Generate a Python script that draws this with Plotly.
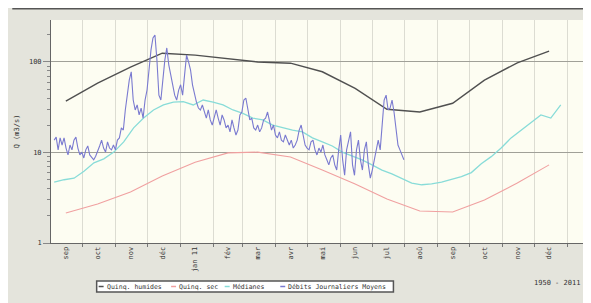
import plotly.graph_objects as go
import pandas as pd

# ---------------- data ----------------
month_labels = ["sep", "oct", "nov", "déc", "jan 11", "fév", "mar", "avr",
                "mai", "jun", "jul", "aoû", "sep", "oct", "nov", "déc"]
month_first = pd.date_range("2010-09-01", periods=16, freq="MS")
month_mid = month_first + pd.Timedelta(days=14)
month_start = pd.date_range("2010-10-01", periods=16, freq="MS")

quinq_humide = [37, 58.5, 88, 125, 119, 108, 100, 97, 78, 51, 30, 28, 35, 63, 98, 132]
quinq_sec = [2.15, 2.7, 3.66, 5.5, 7.8, 9.9, 10.1, 8.9, 6.4, 4.5, 3.06, 2.26, 2.2, 2.98, 4.6, 7.3]

medianes = [4.7, 5.0, 5.2, 6.2, 7.7, 8.5, 10.1, 13.1, 18.7, 24, 29.5, 33.5, 36, 36.5, 33.5,
            38, 36, 33.5, 29.5, 27, 24, 22.9, 20.1, 18.7, 17.7, 16.9, 14.5, 13.1, 11.8, 10.1,
            9.1, 8.3, 7.3, 6.4, 5.8, 5.2, 4.6, 4.4, 4.5, 4.7, 5.0, 5.4, 6.0, 7.5, 9.0, 11.2,
            14.5, 17.7, 21.7, 26, 24, 33.5]
medianes_start, medianes_end = "2010-09-04", "2011-12-26"

debits = [13.7, 14.8, 10.7, 14.5, 12.1, 14.5, 11.2, 9.4, 12.1, 10.7, 13.7, 14.8, 11.2, 9.4,
          10.1, 8.7, 10.7, 11.8, 9.4, 8.7, 8.3, 9.1, 10.7, 11.8, 13.7, 11.2, 10.1, 13.1, 11.2,
          10.7, 12.1, 10.7, 13.7, 14.5, 18.7, 17.7, 29.5, 43, 63, 78, 38, 29.5, 33.5, 26, 31,
          24, 38, 49, 82, 136, 184, 199, 105, 43, 38, 63, 105, 143, 93, 72, 56, 43, 38, 49, 56,
          43, 72, 119, 100, 82, 56, 43, 36, 31, 29.5, 33.5, 28, 24, 29.5, 22.9, 20.1, 24, 29.5,
          24, 20.1, 26, 22.9, 18.7, 20.1, 16.9, 22.9, 18.7, 15.6, 17.7, 26, 28, 38, 40, 29.5,
          22.9, 24, 18.7, 17.7, 20.1, 16.9, 18.7, 22.9, 24, 28, 21.7, 17.7, 20.1, 15.6, 14.5,
          16.9, 13.7, 13.1, 15.6, 13.7, 12.1, 13.7, 11.2, 12.1, 13.7, 17.7, 20.1, 15.6, 12.1,
          11.2, 10.7, 13.1, 13.7, 10.7, 9.4, 11.2, 10.1, 12.1, 9.4, 8.3, 7.3, 8.7, 9.4, 7.3,
          6.4, 10.7, 15.6, 8.3, 5.6, 10.7, 13.7, 16.9, 7.3, 5.6, 10.7, 13.7, 8.3, 6.4, 10.7,
          13.1, 7.3, 5.2, 6.4, 8.3, 10.7, 13.7, 10.7, 20.1, 38, 43, 29.5, 31, 38, 28, 17.7,
          12.1, 10.7, 9.4, 8.3]
debits_start, debits_end = "2010-09-04", "2011-07-31"

series_names = ["Quinq. humides", "Quinq. sec", "Médianes", "Débits Journaliers Moyens"]
series_colors = ["#505050", "#f0a0a0", "#88dcd8", "#7a7ad0"]
period_text = "1950 - 2011"

# ---------------- geometry helpers (layout only) ----------------
# the page body adds an 8px offset; figure spans page x 8..591, y 8..303
OFF = 8
W, H = 591 - OFF, 303 - OFF
ML, MR, MT, MB = 47 - OFF, 8, 20 - OFF, 60
PW, PH = W - ML - MR, H - MT - MB


def px(x_page):
    return (x_page - OFF - ML) / PW


def py(y_page):
    return (H - MB - (y_page - OFF)) / PH


FONT = "DejaVu Sans Mono"

fig = go.Figure()
fig.add_trace(go.Scatter(x=month_mid, y=quinq_humide, mode="lines", name=series_names[0],
                         line=dict(color=series_colors[0], width=1.4), showlegend=False))
fig.add_trace(go.Scatter(x=month_mid, y=quinq_sec, mode="lines", name=series_names[1],
                         line=dict(color=series_colors[1], width=1.1), showlegend=False))
fig.add_trace(go.Scatter(x=pd.date_range(medianes_start, medianes_end, periods=len(medianes)),
                         y=medianes, mode="lines", name=series_names[2],
                         line=dict(color=series_colors[2], width=1.3), showlegend=False))
fig.add_trace(go.Scatter(x=pd.date_range(debits_start, debits_end, periods=len(debits)),
                         y=debits, mode="lines", name=series_names[3],
                         line=dict(color=series_colors[3], width=1.1), showlegend=False))

shapes = [
    # dark top rule of the frame
    dict(type="line", xref="paper", yref="paper", x0=px(OFF), x1=px(591), y0=py(8.7), y1=py(8.7),
         line=dict(color="#555555", width=1.5)),
    # legend box
    dict(type="rect", xref="paper", yref="paper", x0=px(93), x1=px(392), y0=py(292), y1=py(281),
         fillcolor="white", line=dict(color="#555555", width=1.5)),
]
annotations = []
legend_dash_x = [95, 168, 222, 278]
for name, color, x0 in zip(series_names, series_colors, legend_dash_x):
    shapes.append(dict(type="line", xref="paper", yref="paper", x0=px(x0), x1=px(x0 + 5),
                       y0=py(286.5), y1=py(286.5), line=dict(color=color, width=1.5)))
    annotations.append(dict(xref="paper", yref="paper", x=px(x0 + 6), y=py(286.5), text=name,
                            showarrow=False, xanchor="left", yanchor="middle",
                            font=dict(family=FONT, size=6.5, color="#333333")))
annotations.append(dict(xref="paper", yref="paper", x=px(582), y=py(283), text=period_text,
                        showarrow=False, xanchor="right", yanchor="middle",
                        font=dict(family=FONT, size=7, color="#333333")))

fig.update_layout(
    width=W, height=H, autosize=False,
    margin=dict(l=ML, r=MR, t=MT, b=MB),
    paper_bgcolor="#e4e4dc", plot_bgcolor="#fdfdf2",
    showlegend=False,
    shapes=shapes, annotations=annotations,
    xaxis=dict(
        type="date", range=["2010-09-01", "2012-01-16"],
        tickmode="array", tickvals=month_mid, ticktext=month_labels,
        tickangle=-90, ticks="", showgrid=False,
        tickfont=dict(family=FONT, size=7, color="#333333"),
        showline=True, linecolor="#666666", linewidth=1,
        minor=dict(tickmode="array", tickvals=month_start, ticks="outside", ticklen=3,
                   tickcolor="#777777", showgrid=True, gridcolor="#dcdcd2", gridwidth=1),
    ),
    yaxis=dict(
        type="log", range=[0, 2.464],
        tickmode="array", tickvals=[1, 10, 100], ticktext=["1", "10", "100"],
        ticks="outside", ticklen=7, tickcolor="#888888",
        showgrid=True, gridcolor="#a0a098", gridwidth=1,
        tickfont=dict(family=FONT, size=7, color="#333333"),
        showline=True, linecolor="#666666", linewidth=1,
        title=dict(text="Q (m3/s)", standoff=8, font=dict(family=FONT, size=7, color="#333333")),
        minor=dict(tickmode="array",
                   tickvals=[2, 3, 4, 5, 6, 7, 8, 9, 20, 30, 40, 50, 60, 70, 80, 90, 200],
                   ticks="outside", ticklen=3, tickcolor="#888888", showgrid=False),
    ),
)

fig.write_html("out.html")
